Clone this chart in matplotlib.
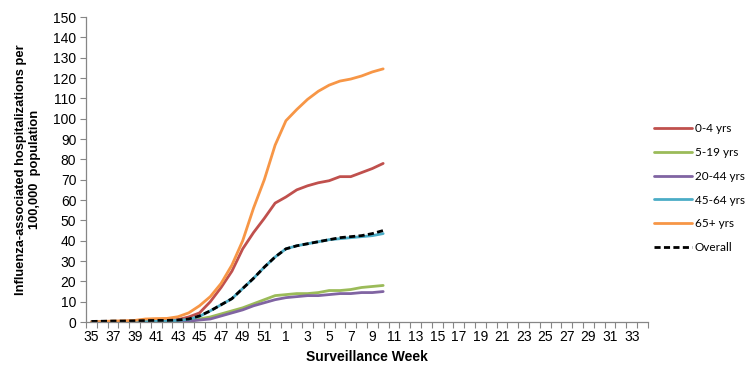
import numpy as np
import matplotlib
matplotlib.use('Agg')
import matplotlib.pyplot as plt
from matplotlib.ticker import FixedLocator

# surveillance weeks on the axis (35..52 then 1..34)
weeks_axis = list(range(35, 53)) + list(range(1, 35))
# weeks with data (35..52 then 1..10)
weeks_data = list(range(35, 53)) + list(range(1, 11))

age_0_4 = [0.1, 0.2, 0.3, 0.4, 0.5, 0.7, 0.8, 0.9, 1.2, 2.5, 4.5, 10, 17, 25, 36, 44, 51, 58.5,
           61.5, 65, 67, 68.5, 69.5, 71.5, 71.5, 73.5, 75.5, 78]
age_5_19 = [0, 0, 0, 0.1, 0.1, 0.1, 0.2, 0.2, 0.3, 0.6, 1.5, 2.5, 4, 5.5, 7, 9, 11, 13,
            13.5, 14, 14, 14.5, 15.5, 15.5, 16, 17, 17.5, 18]
age_20_44 = [0, 0, 0, 0, 0.1, 0.1, 0.1, 0.2, 0.2, 0.4, 1, 1.5, 3, 4.5, 6, 8, 9.5, 11,
             12, 12.5, 13, 13, 13.5, 14, 14, 14.5, 14.5, 15]
age_45_64 = [0.1, 0.1, 0.2, 0.2, 0.3, 0.4, 0.5, 0.6, 0.8, 1.3, 2.8, 5.5, 8.5, 11.5, 16.5, 21.5, 27, 32,
             36, 37.5, 38.5, 39.5, 40.5, 41, 41.5, 42, 42.5, 43.5]
age_65 = [0.1, 0.3, 0.5, 0.6, 0.8, 1.5, 1.7, 1.8, 2.6, 4.5, 8, 12.5, 19, 28, 40, 56, 70, 87,
          99, 104.5, 109.5, 113.5, 116.5, 118.5, 119.5, 121, 123, 124.5]
overall = [0.3, 0.4, 0.5, 0.5, 0.6, 0.7, 0.8, 0.8, 1, 1.5, 3, 5.5, 8.5, 11.5, 16.5, 21.5, 27, 32,
           36, 37.5, 38.5, 39.5, 40.5, 41.5, 42, 42.5, 43.5, 45]

series = [
    ("0-4 yrs", age_0_4, "#C0504D", "-"),
    ("5-19 yrs", age_5_19, "#9BBB59", "-"),
    ("20-44 yrs", age_20_44, "#8064A2", "-"),
    ("45-64 yrs", age_45_64, "#4BACC6", "-"),
    ("65+ yrs", age_65, "#F79646", "-"),
    ("Overall", overall, "black", (0, (2.2, 1.2))),
]

plt.rcParams['font.family'] = ['Liberation Sans', 'DejaVu Sans']

fig = plt.figure(figsize=(7.56, 3.78), dpi=100)
ax = fig.add_axes([0.1138, 0.148, 0.857 - 0.1138, 0.955 - 0.148])

x = np.arange(len(weeks_data))
for name, vals, col, ls in series:
    ax.plot(x, vals, color=col, lw=2.0, ls=ls, label=name, solid_capstyle='round')

ax.set_xlim(-0.5, len(weeks_axis) - 0.5)
ax.set_ylim(0, 150)
ax.set_yticks(np.arange(0, 151, 10))
ax.set_xticks(np.arange(0, len(weeks_axis), 2))
ax.set_xticklabels([str(w) for w in weeks_axis[::2]])
ax.xaxis.set_minor_locator(FixedLocator(np.arange(-0.5, len(weeks_axis), 1)))
ax.tick_params(axis='x', which='major', length=0, pad=6, labelsize=10)
ax.tick_params(axis='x', which='minor', length=4, color='#868686', width=0.8)
ax.tick_params(axis='y', length=4, color='#868686', width=0.8, labelsize=10, pad=3)

for s in ['top', 'right']:
    ax.spines[s].set_visible(False)
for s in ['left', 'bottom']:
    ax.spines[s].set_color('#868686')
    ax.spines[s].set_linewidth(0.9)

ax.set_xlabel("Surveillance Week", fontsize=10, fontweight='bold', labelpad=4)
ax.set_ylabel("Influenza-associated hospitalizations per\n100,000  population", fontsize=9.3,
              fontweight='bold', labelpad=9, linespacing=1.15)

leg = fig.legend(loc='upper left', bbox_to_anchor=(0.851, 0.702), frameon=False,
                 prop={'family': ['Lato', 'DejaVu Sans'], 'size': 8.5},
                 handlelength=3.2, handletextpad=0.25, labelspacing=1.08)

fig.savefig("out.png", dpi=100)
